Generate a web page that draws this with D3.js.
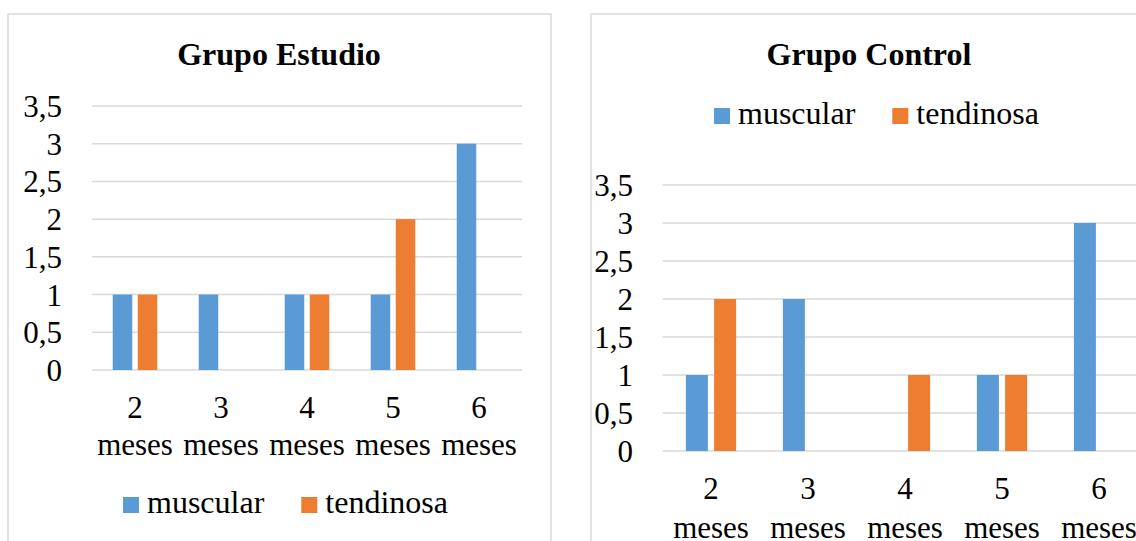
<!DOCTYPE html>
<html>
<head>
<meta charset="utf-8">
<script src="https://cdn.jsdelivr.net/npm/d3@7"></script>
<style>
  html, body { margin: 0; padding: 0; background: #ffffff; }
  svg { display: block; }
  svg text { font-family: "Liberation Serif", "Times New Roman", serif; fill: #000; }
</style>
</head>
<body>
<svg id="chart" width="1136" height="541"></svg>
<script>
// Month categories (two-line labels: number + "meses")
const categories = ["2 meses", "3 meses", "4 meses", "5 meses", "6 meses"];
const seriesNames = ["muscular", "tendinosa"];
const seriesColors = ["#5b9bd5", "#ed7d31"];
const yTicks = [0, 0.5, 1, 1.5, 2, 2.5, 3, 3.5];

// Grupo Estudio
const estudioMuscular = [1, 1, 1, 1, 3];
const estudioTendinosa = [1, 0, 1, 2, 0];

// Grupo Control
const controlMuscular = [1, 2, 0, 1, 3];
const controlTendinosa = [2, 0, 1, 1, 0];

const svg = d3.select("#chart");
const fmt = v => String(v).replace(".", ",");
const serif = "'Liberation Serif', 'Times New Roman', serif";

function drawPanel(cfg) {
  const g = svg.append("g");

  // panel frame
  g.append("rect")
    .attr("x", cfg.frame[0]).attr("y", cfg.frame[1])
    .attr("width", cfg.frame[2]).attr("height", cfg.frame[3])
    .attr("fill", "#fff").attr("stroke", "#d9d9d9").attr("stroke-width", 1.5);

  // title
  g.append("text")
    .attr("x", cfg.titleX).attr("y", cfg.titleY)
    .attr("text-anchor", "middle")
    .style("font-family", serif)
    .style("font-size", "32px").style("font-weight", "bold")
    .text(cfg.title);

  const x0 = d3.scaleBand().domain(categories).range(cfg.xRange).paddingInner(0).paddingOuter(0);
  const x1 = d3.scaleBand().domain(seriesNames).range([0, x0.bandwidth()])
    .paddingInner(0.22).paddingOuter(0.828);
  const y = d3.scaleLinear().domain([0, 3.5]).range(cfg.yRange);

  // gridlines
  g.append("g").selectAll("line").data(yTicks).join("line")
    .attr("x1", cfg.xRange[0]).attr("x2", cfg.xRange[1])
    .attr("y1", d => y(d)).attr("y2", d => y(d))
    .attr("stroke", "#d9d9d9").attr("stroke-width", 1.5);

  // y axis labels
  const yAxis = d3.axisLeft(y).tickValues(yTicks).tickFormat(fmt).tickSize(0).tickPadding(0);
  const ya = g.append("g").attr("transform", `translate(${cfg.yLabelX},0)`).call(yAxis);
  ya.attr("font-family", null).attr("font-size", null);
  ya.select(".domain").remove();
  ya.selectAll("text")
    .style("font-family", serif)
    .style("font-size", "31px").attr("dy", "0.34em").attr("fill", "#000");

  // bars
  const rows = categories.map((c, i) => ({
    cat: c,
    vals: [
      { s: seriesNames[0], v: cfg.data[0][i], color: seriesColors[0] },
      { s: seriesNames[1], v: cfg.data[1][i], color: seriesColors[1] }
    ]
  }));
  g.append("g").selectAll("g").data(rows).join("g")
    .attr("transform", d => `translate(${x0(d.cat)},0)`)
    .selectAll("rect").data(d => d.vals.filter(v => v.v > 0)).join("rect")
    .attr("x", d => x1(d.s))
    .attr("width", x1.bandwidth())
    .attr("y", d => y(d.v))
    .attr("height", d => y(0) - y(d.v))
    .attr("fill", d => d.color);

  // x axis labels (two lines)
  const xl = g.append("g").selectAll("text").data(categories).join("text")
    .attr("text-anchor", "middle")
    .style("font-family", serif)
    .style("font-size", "31px")
    .attr("transform", d => `translate(${x0(d) + x0.bandwidth() / 2},${y(0) + 48})`);
  xl.each(function (d) {
    const parts = d.split(" ");
    const t = d3.select(this);
    t.append("tspan").attr("x", 0).attr("y", 0).text(parts[0]);
    t.append("tspan").attr("x", 0).attr("y", cfg.lineGap).text(parts[1]);
  });

  // legend
  const lg = g.append("g").attr("transform", `translate(${cfg.legendX},${cfg.legendY})`);
  let cx = 0;
  seriesNames.forEach((name, i) => {
    lg.append("rect").attr("x", cx).attr("y", -16).attr("width", 16).attr("height", 16)
      .attr("fill", seriesColors[i]);
    const t = lg.append("text").attr("x", cx + 24).attr("y", 0)
      .style("font-family", serif)
      .style("font-size", "32px").text(name);
    cx += 24 + t.node().getComputedTextLength() + 37;
  });
}

drawPanel({
  title: "Grupo Estudio",
  frame: [8, 14, 543, 560],
  titleX: 279, titleY: 65,
  xRange: [92, 522],
  yRange: [370, 106],
  yLabelX: 62,
  lineGap: 37,
  legendX: 123, legendY: 513,
  data: [estudioMuscular, estudioTendinosa]
});

drawPanel({
  title: "Grupo Control",
  frame: [591, 14, 600, 560],
  titleX: 869, titleY: 65,
  xRange: [662.5, 1147.5],
  yRange: [451, 185],
  yLabelX: 633,
  lineGap: 39,
  legendX: 714, legendY: 124,
  data: [controlMuscular, controlTendinosa]
});
</script>
</body>
</html>
